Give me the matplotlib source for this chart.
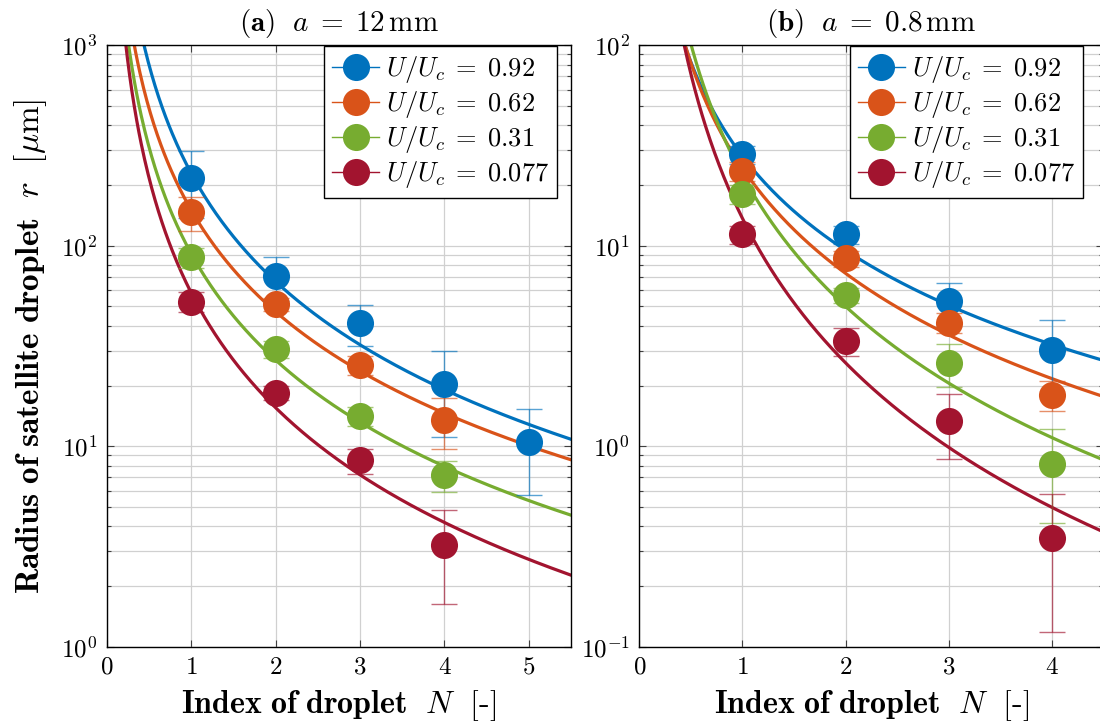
import numpy as np
import matplotlib
matplotlib.use('Agg')
import matplotlib.pyplot as plt
from matplotlib.lines import Line2D
from matplotlib.ticker import LogLocator, NullFormatter

plt.rcParams['font.family'] = 'serif'
plt.rcParams['font.serif'] = ['cmr10']
plt.rcParams['mathtext.fontset'] = 'cm'
plt.rcParams['axes.formatter.use_mathtext'] = True
plt.rcParams['axes.unicode_minus'] = False

# U/Uc values and colours (MATLAB default order)
ratios = ['0.92', '0.62', '0.31', '0.077']
colors = ['#0072BD', '#D95319', '#77AC30', '#A2142F']

# panel (a): a = 12 mm
a_N = [[1, 2, 3, 4, 5], [1, 2, 3, 4], [1, 2, 3, 4], [1, 2, 3, 4]]
a_r = [[217, 70.6, 41.0, 20.4, 10.5],
       [147, 51.0, 25.4, 13.5],
       [87.5, 30.5, 14.1, 7.16],
       [52.6, 18.5, 8.5, 3.23]]
a_err = [[80, 17.5, 9.5, 9.3, 4.8],
         [29, 4.0, 2.7, 3.8],
         [10, 3.0, 1.5, 1.25],
         [6, 1.5, 1.2, 1.6]]
# power-law fits r = A * N^-b
a_A = [229, 150, 91, 58]
a_b = [1.79, 1.68, 1.76, 1.9]

# panel (b): a = 0.8 mm
b_N = [[1, 2, 3, 4]] * 4
b_r = [[28.6, 11.4, 5.32, 3.02],
       [23.6, 8.65, 4.13, 1.80],
       [18.2, 5.68, 2.61, 0.813],
       [11.4, 3.36, 1.34, 0.348]]
b_err = [[3.0, 1.2, 1.2, 1.24],
         [2.5, 0.8, 0.48, 0.31],
         [2.0, 0.5, 0.63, 0.4],
         [1.2, 0.55, 0.48, 0.23]]
b_A = [28, 24.4, 22.5, 13.7]
b_b = [1.56, 1.744, 2.174, 2.394]


def draw_panel(ax, Ns, rs, errs, As, bs, xmax, ylim, title, leg_x):
    xs = np.linspace(0.05, xmax, 400)
    for i in range(4):
        c = colors[i]
        ax.plot(xs, As[i] * xs ** (-bs[i]), color=c, lw=2.3, zorder=2)
        ax.errorbar(Ns[i], rs[i], yerr=errs[i], fmt='none', ecolor=c,
                    elinewidth=1.0, capsize=9.5, capthick=1.0, alpha=0.65, zorder=3)
        ax.plot(Ns[i], rs[i], 'o', color=c, ms=19.5, mec='none', zorder=4)
    ax.set_yscale('log')
    ax.set_xlim(0, xmax)
    ax.set_ylim(*ylim)
    ax.set_xticks(range(int(xmax) + 1))
    ax.yaxis.set_minor_locator(LogLocator(base=10, subs=np.arange(2, 10)))
    ax.yaxis.set_minor_formatter(NullFormatter())
    ax.grid(True, which='major', color='#d0d0d0', lw=0.9)
    ax.grid(True, which='minor', axis='y', color='#d0d0d0', lw=0.9)
    ax.set_axisbelow(True)
    ax.tick_params(which='both', direction='in', top=True, right=True,
                   labelsize=18, color='#404040', pad=7)
    ax.tick_params(which='major', length=5, width=0.8)
    ax.tick_params(which='minor', length=3, width=0.8)
    for s in ax.spines.values():
        s.set_linewidth(1.0)
    ax.set_title(title, fontsize=21, pad=10)
    ax.set_xlabel(r'$\mathbf{Index\ of\ droplet}\ \ N\ \ \mathbf{[}$-$\mathbf{]}$',
                  fontsize=23, labelpad=7)
    handles = [Line2D([0], [0], color=colors[i], lw=1.0, marker='o', ms=19.5,
                      mec='none', mfc=colors[i]) for i in range(4)]
    labels = [r'$U/U_c\;=\;%s$' % r for r in ratios]
    leg = ax.legend(handles, labels, loc='upper right', bbox_to_anchor=(leg_x, 0.998),
                    fontsize=19, frameon=True, fancybox=False, edgecolor='black',
                    framealpha=1, borderaxespad=0, handlelength=1.8,
                    handletextpad=0.25, labelspacing=0.15, borderpad=0.3)
    leg.get_frame().set_linewidth(1.0)


fig = plt.figure(figsize=(11, 7.27), dpi=100)
ax1 = fig.add_axes([0.0973, 0.1105, 0.4218, 0.8272])
ax2 = fig.add_axes([0.5812, 0.1105, 0.4218, 0.8272])

draw_panel(ax1, a_N, a_r, a_err, a_A, a_b, 5.5, (1, 1000),
           r'$\mathbf{(a)}\ \ a\;=\;12\,\mathrm{mm}$', 0.970)
draw_panel(ax2, b_N, b_r, b_err, b_A, b_b, 4.5, (0.1, 100),
           r'$\mathbf{(b)}\ \ a\;=\;0.8\,\mathrm{mm}$', 0.956)

ax1.set_ylabel(r'$\mathbf{Radius\ of\ satellite\ droplet}\ \ r\ \ \mathbf{[}\mu\mathrm{m}\mathbf{]}$',
               fontsize=24, labelpad=9)

fig.savefig('out.png', dpi=100)
